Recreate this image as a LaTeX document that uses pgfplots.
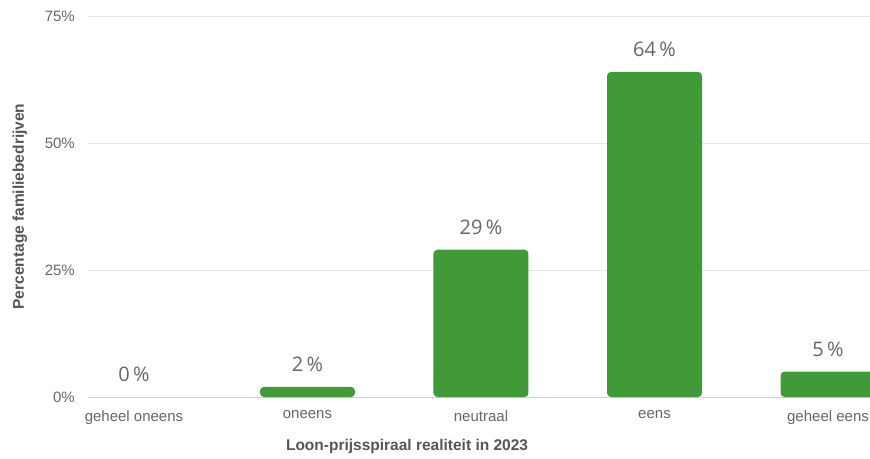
\documentclass[border=0pt]{standalone}
\usepackage{pgfplots}
\pgfplotsset{compat=1.18}
\usepackage{fontspec}
\setmainfont{Liberation Sans}
\newfontfamily\valfont{Open Sans}
\definecolor{bargreen}{HTML}{409A38}
\definecolor{txtgray}{HTML}{666666}
\definecolor{ttlgray}{HTML}{555555}
\definecolor{gridgray}{HTML}{E6E6E6}
\definecolor{zerogray}{HTML}{D0D0D0}
\pgfplotstableread{
x y
0 0
1 2
2 29
3 64
4 5
}\datatable
\begin{document}
\begin{tikzpicture}
\useasboundingbox (-88pt,-61pt) rectangle (782pt,397pt);
\clip (-88pt,-61pt) rectangle (782pt,397pt);
\begin{axis}[
  scale only axis,
  width=782pt, height=381pt,
  xmin=-0.265, xmax=4.242,
  ymin=0, ymax=75,
  ybar, bar width=95pt,
  xtick={0,1,2,3,4},
  xticklabels={geheel oneens, oneens, neutraal, eens, geheel eens},
  ytick={25,50,75},
  yticklabels={25\%,50\%,75\%},
  extra y ticks={0},
  extra y tick labels={0\%},
  extra y tick style={grid style={zerogray, line width=1pt}},
  ymajorgrids,
  grid style={gridgray, line width=0.8pt},
  axis line style={draw=none},
  major tick length=0pt,
  tick label style={font=\fontsize{15}{18}\selectfont, text=txtgray},
  xticklabel style={inner sep=0pt, anchor=north, yshift=-13pt},
  yticklabel style={inner sep=0pt, anchor=east, xshift=-13pt},
  xlabel={Loon-prijsspiraal realiteit in 2023},
  ylabel={Percentage familiebedrijven},
  label style={font=\fontsize{15.5}{18}\bfseries, text=ttlgray},
  xlabel style={at={(axis description cs:0.408,-0.1286)}, anchor=center},
  ylabel style={at={(axis description cs:-0.087,0.5)}, anchor=center},
  clip=true,
]
\addplot[fill=bargreen, draw=none, rounded corners=4pt, bar shift=0pt,
  y filter/.expression={y<=0 ? nan : y}, unbounded coords=discard] table[x=x,y=y] {\datatable};
\addplot[fill=none, draw=none, bar shift=0pt,
  nodes near coords={\pgfmathprintnumber{\pgfplotspointmeta}\,\%},
  nodes near coords style={font=\valfont\fontsize{20}{24}\selectfont, text=txtgray, anchor=south, inner sep=0pt, yshift=15pt, /pgf/number format/assume math mode=true}
] table[x=x,y=y] {\datatable};
\end{axis}
\end{tikzpicture}
\end{document}
